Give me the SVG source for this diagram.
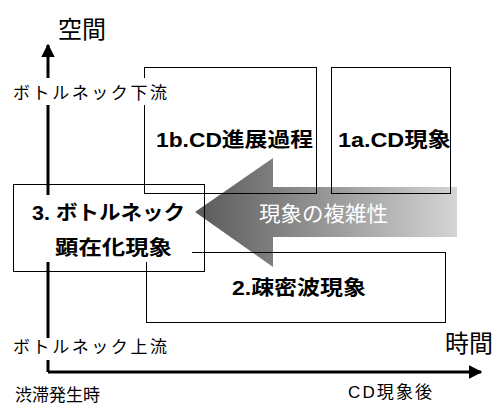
<svg xmlns="http://www.w3.org/2000/svg" width="496" height="406" viewBox="0 0 496 406">
<style>
.box{fill:none;stroke:#000;stroke-width:1}
.ax{fill:none;stroke:#000;stroke-width:3}
.bg{fill:#fff;stroke:none}
.t{font-family:"Liberation Sans","Noto Sans CJK JP",sans-serif;fill:#000}
.nb{font-weight:bold;font-size:20px}
.lab{font-size:17px}
.big{font-size:24px}
</style>
<defs>
<linearGradient id="g" x1="195" y1="0" x2="457" y2="0" gradientUnits="userSpaceOnUse">
<stop offset="0" stop-color="#5a5a5a"/>
<stop offset="1" stop-color="#d4d4d4"/>
</linearGradient>
<marker id="ah" viewBox="0 0 10 10" refX="9" refY="5" markerWidth="4.5" markerHeight="4.5" orient="auto" markerUnits="strokeWidth">
<path d="M0,0 L10,5 L0,10 z" fill="#000"/>
</marker>
</defs>
<g id="complexity-arrow">
<path d="M195,212 L273,158 L273,187 L457,187 L457,237 L273,237 L273,267 z" fill="url(#g)"/>
<text class="t" x="259" y="221" font-size="21" style="fill:#fff" textLength="129" lengthAdjust="spacingAndGlyphs">現象の複雑性</text>
</g>
<g id="connectors">
<path class="ax" d="M48,372 L48,45" marker-end="url(#ah)"/>
<path class="ax" d="M48,372 L481,372" marker-end="url(#ah)"/>
</g>
<g id="node-1b">
<rect class="box" x="144.5" y="67.5" width="172" height="126"/>
</g>
<g id="node-1a">
<rect class="box" x="331.5" y="67.5" width="119" height="126"/>
<text class="t nb" x="338" y="147" textLength="113" lengthAdjust="spacingAndGlyphs">1a.CD現象</text>
</g>
<g id="node-2">
<rect class="box" x="146.5" y="252.5" width="299" height="70"/>
<text class="t nb" x="232" y="295" textLength="134" lengthAdjust="spacingAndGlyphs">2.疎密波現象</text>
</g>
<g id="node-3">
<rect class="box" x="13.5" y="184.5" width="191" height="87"/>
<rect class="bg" x="20" y="195" width="172" height="67"/>
<text class="t nb" x="32" y="220" textLength="153" lengthAdjust="spacingAndGlyphs">3. ボトルネック</text>
<text class="t nb" x="55" y="255" font-size="21" textLength="117" lengthAdjust="spacingAndGlyphs">顕在化現象</text>
</g>
<g id="node-1b-label">
<rect class="bg" x="8" y="78" width="166" height="27"/>
<text class="t nb" x="156" y="147" textLength="157" lengthAdjust="spacingAndGlyphs">1b.CD進展過程</text>
</g>
<g id="axis-labels">
<text class="t big" x="58" y="38">空間</text>
<text class="t lab" x="13" y="99" textLength="154" lengthAdjust="spacing">ボトルネック下流</text>
<rect class="bg" x="8" y="338" width="166" height="22"/>
<text class="t lab" x="13" y="353" textLength="154" lengthAdjust="spacing">ボトルネック上流</text>
<text class="t big" x="445" y="352">時間</text>
<text class="t lab" x="15" y="401" textLength="85" lengthAdjust="spacing">渋滞発生時</text>
<text class="t lab" x="348" y="398" textLength="84" lengthAdjust="spacing">CD現象後</text>
</g>
</svg>
